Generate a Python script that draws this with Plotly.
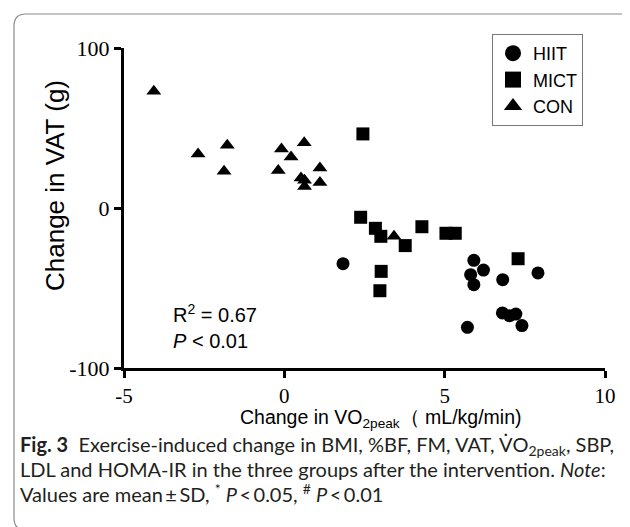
import plotly.graph_objects as go

# ---- data ----
hiit_x = [1.83, 5.91, 6.21, 5.81, 5.91, 6.81, 7.91, 6.80, 7.02, 7.22, 7.41, 5.71]
hiit_y = [-34.8, -32.7, -38.8, -41.7, -47.9, -44.8, -40.6, -65.6, -67.3, -66.3, -73.5, -74.6]
mict_x = [2.45, 2.38, 2.84, 3.01, 4.29, 3.77, 5.04, 5.33, 3.02, 2.98, 7.29]
mict_y = [46.3, -5.8, -12.7, -17.7, -11.7, -23.5, -15.8, -15.8, -39.6, -51.7, -31.7]
con_x = [-4.07, -2.69, -1.78, -1.88, -0.09, 0.21, 0.62, -0.19, 0.52, 0.63, 0.63, 1.11, 1.11, 3.42]
con_y = [72.9, 33.8, 39.2, 22.9, 36.9, 31.9, 40.8, 23.5, 18.8, 17.3, 13.5, 25.0, 16.0, -17.7]

group_names = ["HIIT", "MICT", "CON"]
x_tick_vals = [-5, 0, 5, 10]
x_tick_text = ["-5", "0", "5", "10"]
y_tick_vals = [-100, 0, 100]
y_tick_text = ["-100", "0", "100"]

# ---- layout geometry (pixels) ----
W, H = 630, 527
L, R, T, B = 116, 597, 40, 360


def px(xpix):
    return (xpix - L) / (R - L)


def py(ypix):
    return (B - ypix) / (B - T)


SANS = "Liberation Sans, Arial, sans-serif"
SERIF = "Liberation Serif, Times New Roman, serif"
CAP = "Lato, Open Sans, sans-serif"

fig = go.Figure()
groups = [
    (group_names[0], hiit_x, hiit_y, "circle"),
    (group_names[1], mict_x, mict_y, "square"),
    (group_names[2], con_x, con_y, "triangle-up"),
]
for name, xs, ys, sym in groups:
    fig.add_trace(go.Scatter(
        x=xs, y=ys, mode="markers", name=name, showlegend=False,
        marker=dict(symbol=sym, size=13, color="black", line=dict(width=0)),
        cliponaxis=False,
    ))
# legend entries (larger symbols, as in the reference legend)
for name, xs, ys, sym in groups:
    fig.add_trace(go.Scatter(
        x=[None], y=[None], mode="markers", name=name, showlegend=True,
        marker=dict(symbol=sym, size=16, color="black", line=dict(width=0)),
    ))

fig.update_xaxes(
    range=[-5, 10], tickmode="array", tickvals=x_tick_vals, ticktext=x_tick_text,
    showline=True, linecolor="black", linewidth=3, ticks="outside", ticklen=7,
    tickwidth=3, tickcolor="black", showgrid=False, zeroline=False,
    tickfont=dict(family=SERIF, size=21, color="black"),
)
fig.update_yaxes(
    range=[-100, 100], tickmode="array", tickvals=y_tick_vals, ticktext=y_tick_text,
    showline=True, linecolor="black", linewidth=3, ticks="outside", ticklen=7,
    tickwidth=3, tickcolor="black", showgrid=False, zeroline=False,
    tickfont=dict(family=SERIF, size=22, color="black"),
)

# rounded frame
x0, x1, y0, y1, rr = 6, 627, 6, 522, 12
path = (
    f"M {px(x0 + rr)},{py(y0)} L {px(x1 - rr)},{py(y0)} "
    f"Q {px(x1)},{py(y0)} {px(x1)},{py(y0 + rr)} "
    f"L {px(x1)},{py(y1 - rr)} Q {px(x1)},{py(y1)} {px(x1 - rr)},{py(y1)} "
    f"L {px(x0 + rr)},{py(y1)} Q {px(x0)},{py(y1)} {px(x0)},{py(y1 - rr)} "
    f"L {px(x0)},{py(y0 + rr)} Q {px(x0)},{py(y0)} {px(x0 + rr)},{py(y0)} Z"
)
fig.add_shape(type="path", path=path, xref="paper", yref="paper",
              line=dict(color="#8a8a8a", width=1.2), layer="below")

TS = "\u2009"
annotations = [
    dict(text="Change in VAT (g)", x=px(47), y=py(178), textangle=-90,
         font=dict(family=SANS, size=26, color="black")),
    dict(text="Change in VO<sub>2peak</sub>（ mL/kg/min)", x=px(373), y=py(410),
         font=dict(family=SANS, size=19.5, color="black")),
    dict(text="R<sup>2</sup> = 0.67<br><i>P</i> < 0.01", x=px(163), y=py(318),
         xanchor="left", align="left",
         font=dict(family=SANS, size=20, color="black")),
    dict(text="<b>Fig. 3</b>  Exercise-induced change in BMI, %BF, FM, VAT, V̇O<sub>2peak</sub>, SBP,",
         x=px(10), y=py(437), xanchor="left",
         font=dict(family=CAP, size=20, color="#231f20")),
    dict(text="LDL and HOMA-IR in the three groups after the intervention. <i>Note</i>:",
         x=px(10), y=py(461), xanchor="left",
         font=dict(family=CAP, size=20, color="#231f20")),
    dict(text=f"Values are mean{TS}±{TS}SD, <sup>*</sup> <i>P</i>{TS}<{TS}0.05, <sup>#</sup> <i>P</i>{TS}<{TS}0.01",
         x=px(10), y=py(485), xanchor="left",
         font=dict(family=CAP, size=20, color="#231f20")),
]
for a in annotations:
    a.setdefault("xanchor", "center")
    a.update(xref="paper", yref="paper", yanchor="middle", showarrow=False)
    fig.add_annotation(**a)

fig.update_layout(
    width=W, height=H, autosize=False,
    margin=dict(l=L, r=W - R, t=T, b=H - B, pad=0),
    paper_bgcolor="white", plot_bgcolor="white",
    showlegend=True,
    legend=dict(x=px(484), y=py(26), xanchor="left", yanchor="top",
                bordercolor="#777777", borderwidth=1, bgcolor="white",
                font=dict(family=SANS, size=18, color="black"),
                itemwidth=30, tracegroupgap=0),
)

fig.write_html("out.html")
